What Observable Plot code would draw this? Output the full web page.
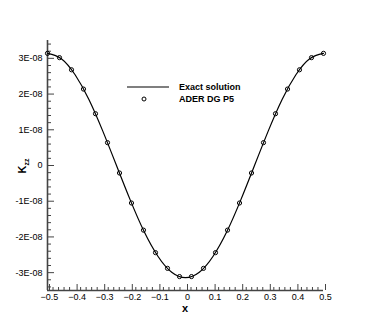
<!DOCTYPE html>
<html>
<head>
<meta charset="utf-8">
<script src="https://cdn.jsdelivr.net/npm/d3@7"></script>
<script src="https://cdn.jsdelivr.net/npm/@observablehq/plot@0.6"></script>
<style>
  html, body { margin: 0; padding: 0; background: white; }
  #wrap { position: relative; width: 368px; height: 327px; }
  #legend { position: absolute; left: 126px; top: 81px; font: bold 9px "Liberation Sans", Arial, sans-serif; color: black; }
  #legend .row { display: flex; align-items: center; height: 12px; }
  #legend svg { width: 48px; height: 12px; margin-right: 5px; }
</style>
</head>
<body>
<div id="wrap">
  <div id="legend">
    <div class="row"><svg><line x1="1" y1="6" x2="43" y2="6" stroke="black" stroke-width="1.2"/></svg><span>Exact solution</span></div>
    <div class="row"><svg><circle cx="18" cy="6" r="2" fill="none" stroke="black" stroke-width="1"/></svg><span>ADER DG P5</span></div>
  </div>
</div>
<script>
// Exact solution
const exactX = [-0.5,-0.45,-0.4,-0.35,-0.3,-0.25,-0.2,-0.15,-0.1,-0.05,0,0.05,0.1,0.15,0.2,0.25,0.3,0.35,0.4,0.45,0.5];
const exactY = [3.14e-8,2.99e-8,2.54e-8,1.85e-8,0.97e-8,0,-0.97e-8,-1.85e-8,-2.54e-8,-2.99e-8,-3.14e-8,-2.99e-8,-2.54e-8,-1.85e-8,-0.97e-8,0,0.97e-8,1.85e-8,2.54e-8,2.99e-8,3.14e-8];

// ADER DG P5 markers
const dgX = [-0.5,-0.4565,-0.413,-0.3696,-0.3261,-0.2826,-0.2391,-0.1957,-0.1522,-0.1087,-0.0652,-0.0217,
             0.0217,0.0652,0.1087,0.1522,0.1957,0.2391,0.2826,0.3261,0.3696,0.413,0.4565,0.5];
const dgY = [3.14e-8,3.02e-8,2.68e-8,2.14e-8,1.45e-8,0.64e-8,-0.21e-8,-1.05e-8,-1.81e-8,-2.44e-8,-2.88e-8,-3.11e-8,
             -3.11e-8,-2.88e-8,-2.44e-8,-1.81e-8,-1.05e-8,-0.21e-8,0.64e-8,1.45e-8,2.14e-8,2.68e-8,3.02e-8,3.14e-8];

// Ticks
const xMajor = [-0.5,-0.4,-0.3,-0.2,-0.1,0,0.1,0.2,0.3,0.4,0.5];
const xMinor = d3.range(-50, 51, 2).filter(v => v % 10 !== 0).map(v => v / 100);
const yMajor = [-3e-8,-2e-8,-1e-8,0,1e-8,2e-8,3e-8];
const yMinor = d3.range(-34, 35, 2).filter(v => v % 10 !== 0).map(v => v * 1e-9);

const exact = exactX.map((x, i) => ({x, y: exactY[i]}));
const dg = dgX.map((x, i) => ({x, y: dgY[i]}));

const axisColor = "#444";
const yFmt = v => Math.abs(v) < 1e-12 ? "0" : `${Math.round(v * 1e8)}E-08`;

const chart = Plot.plot({
  width: 368,
  height: 327,
  marginLeft: 47,
  marginRight: 45,
  marginTop: 40,
  marginBottom: 37,
  style: {fontFamily: "'Liberation Sans', Arial, sans-serif", fontSize: "9px", background: "white", color: "black"},
  x: {domain: [-0.5, 0.5]},
  y: {domain: [-3.5e-8, 3.5e-8]},
  marks: [
    Plot.axisX({ticks: xMinor, tickSize: -3, tickFormat: () => "", stroke: axisColor, label: null}),
    Plot.axisX({ticks: xMajor, tickSize: -6, tickPadding: 9, tickFormat: d => d3.format("")(+d.toFixed(1)), stroke: axisColor, dx: 2, label: null}),
    Plot.axisY({ticks: yMinor, tickSize: -4, tickFormat: () => "", stroke: axisColor, label: null}),
    Plot.axisY({ticks: yMajor, tickSize: -7, tickPadding: 12, tickFormat: yFmt, stroke: axisColor, label: null}),
    Plot.ruleX([-0.5], {stroke: axisColor, strokeWidth: 1.6}),
    Plot.ruleY([-3.5e-8], {stroke: axisColor, strokeWidth: 1.6}),
    Plot.line(exact, {x: "x", y: "y", curve: "natural", stroke: "black", strokeWidth: 1.2}),
    Plot.dot(dg, {x: "x", y: "y", r: 2.1, stroke: "black", fill: "none", strokeWidth: 1})
  ]
});

document.getElementById("wrap").prepend(chart);

const svg = d3.select(chart);
// x axis title
svg.append("text")
  .attr("x", 185).attr("y", 312)
  .attr("text-anchor", "middle")
  .attr("font-weight", "bold").attr("font-size", 11)
  .attr("font-family", "'Liberation Sans', Arial, sans-serif")
  .text("x");
// y axis title K_zz
const yl = svg.append("text")
  .attr("transform", "translate(26,166) rotate(-90)")
  .attr("text-anchor", "middle")
  .attr("font-weight", "bold").attr("font-size", 11)
  .attr("font-family", "'Liberation Sans', Arial, sans-serif");
yl.append("tspan").text("K");
yl.append("tspan").attr("font-size", 7).attr("dy", 3).text("zz");
</script>
</body>
</html>
